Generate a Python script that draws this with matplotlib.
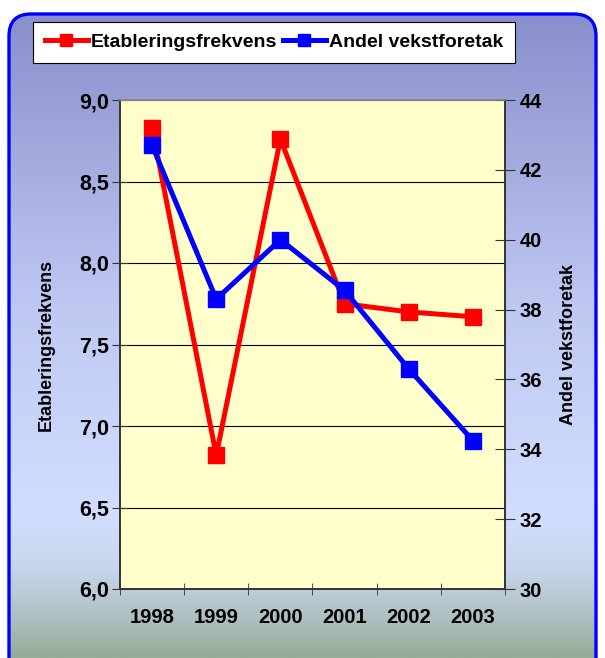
import numpy as np
import matplotlib
matplotlib.use('Agg')
import matplotlib.pyplot as plt
from matplotlib.patches import FancyBboxPatch
from matplotlib.colors import LinearSegmentedColormap
from matplotlib.lines import Line2D

plt.rcParams['font.family'] = ['Liberation Sans', 'DejaVu Sans']
plt.rcParams['font.weight'] = 'bold'

# data
years = ['1998', '1999', '2000', '2001', '2002', '2003']
etablering = [8.83, 6.82, 8.76, 7.75, 7.70, 7.67]
vekstforetak = [42.7, 38.3, 40.0, 38.55, 36.3, 34.25]
left_ticks = [6.0, 6.5, 7.0, 7.5, 8.0, 8.5, 9.0]
right_ticks = [30, 32, 34, 36, 38, 40, 42, 44]

W, H = 605, 658
fig = plt.figure(figsize=(W / 100, H / 100), dpi=100)
fig.patch.set_facecolor('white')

# gradient background inside a rounded blue frame
bg = fig.add_axes([0, 0, 1, 1], zorder=-10)
bg.set_xlim(0, W)
bg.set_ylim(H, 0)
bg.axis('off')
stops = [(0.0, (137, 143, 204)), (0.45, (190, 200, 242)), (0.78, (210, 222, 255)),
         (0.86, (200, 214, 236)), (0.93, (178, 194, 200)), (1.0, (150, 172, 150))]
cmap = LinearSegmentedColormap.from_list(
    'bg', [(p, tuple(c / 255 for c in col)) for p, col in stops])
grad = np.linspace(0, 1, 400).reshape(-1, 1)
im = bg.imshow(grad, cmap=cmap, aspect='auto', extent=(0, W, H, 14))
frame = FancyBboxPatch((9, 14), W - 18, H + 20,
                       boxstyle='round,pad=0,rounding_size=22',
                       facecolor='none', edgecolor='#0000FF', linewidth=2.4)
bg.add_patch(frame)
im.set_clip_path(frame)

ax = fig.add_axes([120 / W, 1 - 589 / H, 385 / W, 489 / H])
ax.set_facecolor('#FFFFCC')
x = np.arange(len(years))

ax.plot(x, etablering, color='#FF0000', lw=3.6, marker='s', ms=12, zorder=3)
ax.set_ylim(6.0, 9.0)
ax.set_yticks(left_ticks)
ax.set_yticklabels([f'{v:.1f}'.replace('.', ',') for v in left_ticks])
ax.grid(axis='y', color='black', lw=0.8)
ax.set_axisbelow(True)
ax.set_xlim(-0.5, 5.5)
ax.set_xticks(x)
ax.set_xticklabels(years)
ax.set_xticks(np.arange(-0.5, 6, 1), minor=True)
ax.tick_params(axis='x', which='major', length=0, pad=14, labelsize=14.5)
ax.tick_params(axis='x', which='minor', length=8, direction='inout', color='#333333')
ax.tick_params(axis='y', length=11, direction='inout', color='#333333', labelsize=15.5, pad=2)
ax.set_ylabel('Etableringsfrekvens', fontsize=13, fontweight='bold', labelpad=18)

ax2 = ax.twinx()
ax2.plot(x, vekstforetak, color='#0000FF', lw=3.6, marker='s', ms=12, zorder=3)
ax2.set_ylim(30, 44)
ax2.set_yticks(right_ticks)
ax2.tick_params(axis='y', length=15, direction='inout', color='#333333', labelsize=14.5, pad=3)
ax2.set_ylabel('Andel vekstforetak', fontsize=13, fontweight='bold', labelpad=13)

for a in (ax, ax2):
    for s in a.spines.values():
        s.set_color('#333333')
        s.set_linewidth(1.2)
    a.spines['top'].set_color('#888888')

handles = [Line2D([], [], color='#FF0000', lw=3.6, marker='s', ms=9),
           Line2D([], [], color='#0000FF', lw=3.6, marker='s', ms=9)]
leg = fig.legend(handles, ['Etableringsfrekvens', 'Andel vekstforetak'],
                 loc='center', bbox_to_anchor=(274 / W, 1 - 42.5 / H), ncol=2,
                 fancybox=False, frameon=True, edgecolor='black', framealpha=1,
                 prop={'weight': 'bold', 'size': 14}, handlelength=2.2,
                 handletextpad=0.15, columnspacing=0.3, borderpad=0.6,
                 borderaxespad=0)
leg.get_frame().set_linewidth(0.8)

fig.savefig('out.png', dpi=100)
